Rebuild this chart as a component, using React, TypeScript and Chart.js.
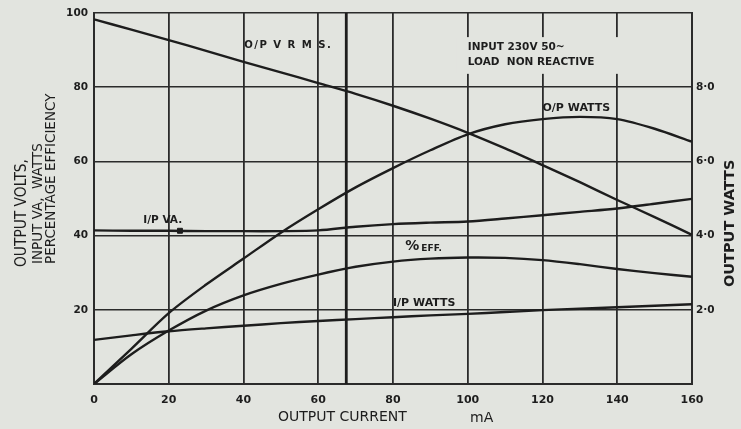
import React, { useEffect, useRef } from "react";
import { Chart, registerables } from "chart.js";
Chart.register(...registerables);

// Output current (mA)
const currentMA = [0, 10, 20, 30, 40, 50, 60, 70, 80, 90, 100, 110, 120, 130, 140, 150, 160];
// Left axis series (volts / VA / watts / %)
const opVoltsRms = [98.3, 95.5, 92.7, 89.8, 86.8, 84.0, 81.1, 78.2, 75.0, 71.5, 67.7, 63.5, 59.0, 54.4, 49.6, 45.0, 40.2];
const ipVA = [41.4, 41.3, 41.3, 41.2, 41.2, 41.2, 41.4, 42.4, 43.1, 43.5, 43.8, 44.6, 45.5, 46.4, 47.3, 48.6, 49.9];
const pctEff = [0, 8.0, 14.4, 19.8, 23.9, 27.0, 29.5, 31.6, 33.0, 33.8, 34.1, 34.0, 33.4, 32.3, 31.0, 29.9, 28.9];
const ipWatts = [11.9, 13.1, 14.2, 15.0, 15.7, 16.4, 17.0, 17.5, 18.0, 18.5, 18.9, 19.4, 19.9, 20.3, 20.7, 21.1, 21.5];
// Right axis series (output watts)
const opWatts = [0, 0.95, 1.91, 2.68, 3.38, 4.08, 4.71, 5.3, 5.82, 6.3, 6.73, 7.0, 7.14, 7.2, 7.14, 6.88, 6.53];
// Heavy vertical reference line on the original sheet
const markerCurrent = 67.5;
const markerSpan = [0, 100];
// Small square marker on I/P VA curve
const vaMarker = { x: 23, y: 41.3 };

const xTicks = [0, 20, 40, 60, 80, 100, 120, 140, 160];

const BG = "#e2e4df";
const INK = "#1d1d1d";
const GRID = "#2b2b2b";
const FONT = "'DejaVu Sans', 'Liberation Sans', sans-serif";

const pts = (ys: number[]) => currentMA.map((x, i) => ({ x, y: ys[i] }));

const textPlugin = {
  id: "sheetText",
  beforeDraw(chart: any) {
    const { ctx, width, height } = chart;
    ctx.save();
    ctx.fillStyle = BG;
    ctx.fillRect(0, 0, width, height);
    ctx.restore();
  },
  afterDraw(chart: any) {
    const { ctx, chartArea } = chart;
    const x = chart.scales.x;
    const y = chart.scales.y;
    const px = (v: number) => x.getPixelForValue(v);
    const py = (v: number) => y.getPixelForValue(v);
    ctx.save();
    ctx.fillStyle = INK;
    ctx.textBaseline = "middle";
    ctx.textAlign = "left";

    // box behind the conditions note (breaks grid lines like the original)
    ctx.fillStyle = BG;
    ctx.fillRect(px(97), py(93.5), px(149.5) - px(97), py(83.6) - py(93.5));
    ctx.fillStyle = INK;

    const put = (t: string, xv: number, yv: number, size: number, maxW?: number, spacing = "0px") => {
      ctx.font = `bold ${size}px ${FONT}`;
      (ctx as any).letterSpacing = spacing;
      if (maxW) ctx.fillText(t, px(xv), py(yv), maxW);
      else ctx.fillText(t, px(xv), py(yv));
      (ctx as any).letterSpacing = "0px";
    };
    put("O/P V R M S.", 40.2, 91.3, 10.5, 88, "1.5px");
    put("INPUT 230V 50~", 100, 90.7, 10.5, 136);
    put("LOAD  NON REACTIVE", 100, 86.6, 10.5, 166);
    put("O/P WATTS", 120, 74.4, 11, 84);
    put("I/P VA.", 13.2, 44.2, 10.5, 55);
    put("I/P WATTS", 80, 21.9, 11, 78);
    // percent eff label
    ctx.font = `bold 14px ${FONT}`;
    ctx.fillText("%", px(83.3), py(37));
    const w = ctx.measureText("%").width;
    ctx.font = `bold 9px ${FONT}`;
    ctx.fillText("EFF.", px(83.3) + w + 2, py(36.6));

    // axis titles
    ctx.font = `14px ${FONT}`;
    ctx.textBaseline = "middle";
    ctx.fillText("OUTPUT CURRENT", 278, 417, 162);
    ctx.fillText("mA", 470, 418, 30);

    const rot = (t: string, cx: number, start: number, size: number, maxW: number, weight = "normal") => {
      ctx.save();
      ctx.translate(cx, start);
      ctx.rotate(-Math.PI / 2);
      ctx.font = `${weight} ${size}px ${FONT}`;
      ctx.textAlign = "left";
      ctx.fillText(t, 0, 0, maxW);
      ctx.restore();
    };
    rot("OUTPUT VOLTS,", 22, 267, 15, 108);
    rot("INPUT VA,  WATTS", 38, 264, 13.5, 146);
    rot("PERCENTAGE EFFICIENCY", 51, 264, 13.5, 180);
    rot("OUTPUT WATTS", chartArea.right + 38, 287, 14.5, 140, "600");
    ctx.restore();
  },
};

export default function App() {
  const ref = useRef<HTMLCanvasElement | null>(null);
  useEffect(() => {
    if (!ref.current) return;
    const line = (data: any[], axis = "y") => ({
      data,
      yAxisID: axis,
      borderColor: INK,
      borderWidth: 2.4,
      pointRadius: 0,
      fill: false,
      tension: 0.3,
    });
    const chart = new Chart(ref.current, {
      type: "line",
      data: {
        datasets: [
          { label: "O/P V RMS", ...line(pts(opVoltsRms)) },
          { label: "I/P VA", ...line(pts(ipVA)) },
          { label: "% EFF", ...line(pts(pctEff)) },
          { label: "I/P WATTS", ...line(pts(ipWatts)) },
          { label: "O/P WATTS", ...line(pts(opWatts), "y2") },
          {
            label: "ref",
            data: markerSpan.map((v) => ({ x: markerCurrent, y: v })),
            yAxisID: "y",
            borderColor: INK,
            borderWidth: 2.8,
            pointRadius: 0,
          },
          {
            label: "mark",
            data: [vaMarker],
            yAxisID: "y",
            showLine: false,
            pointStyle: "rect",
            pointRadius: 3.5,
            backgroundColor: INK,
            borderColor: INK,
          },
        ],
      },
      options: {
        responsive: false,
        animation: false,
        devicePixelRatio: 1,
        layout: { padding: { top: 13, left: 0, right: 0, bottom: 0 } },
        plugins: { legend: { display: false }, tooltip: { enabled: false } },
        scales: {
          x: {
            type: "linear",
            min: 0,
            max: 160,
            afterBuildTicks: (s: any) => {
              s.ticks = xTicks.map((v) => ({ value: v }));
            },
            afterFit: (s: any) => {
              s.height = 45;
            },
            grid: { color: GRID, lineWidth: 1.8, drawTicks: false },
            border: { color: GRID, width: 2 },
            ticks: { color: INK, padding: 10, font: { family: FONT, size: 11, weight: "bold" } },
          },
          y: {
            type: "linear",
            position: "left",
            min: 0,
            max: 100,
            ticks: {
              stepSize: 20,
              color: INK,
              padding: 6,
              font: { family: FONT, size: 10.5, weight: "bold" },
              callback: (v: any) => (v === 0 ? "" : String(v)),
            },
            afterFit: (s: any) => {
              s.width = 94;
            },
            grid: { color: GRID, lineWidth: 1.6, drawTicks: false },
            border: { color: GRID, width: 2 },
          },
          y2: {
            type: "linear",
            position: "right",
            min: 0,
            max: 10,
            ticks: {
              stepSize: 2,
              color: INK,
              padding: 4,
              font: { family: FONT, size: 10.5, weight: "bold" },
              callback: (v: any) => (v === 0 || v === 10 ? "" : Number(v).toFixed(1).replace(".", "·")),
            },
            afterFit: (s: any) => {
              s.width = 49;
            },
            grid: { display: false, drawTicks: false },
            border: { color: GRID, width: 2 },
          },
        },
      },
      plugins: [textPlugin],
    } as any);
    return () => chart.destroy();
  }, []);
  return (
    <div style={{ position: "fixed", left: 0, top: 0, width: 741, height: 429, background: BG }}>
      <canvas ref={ref} width={741} height={429} style={{ display: "block" }} />
    </div>
  );
}
